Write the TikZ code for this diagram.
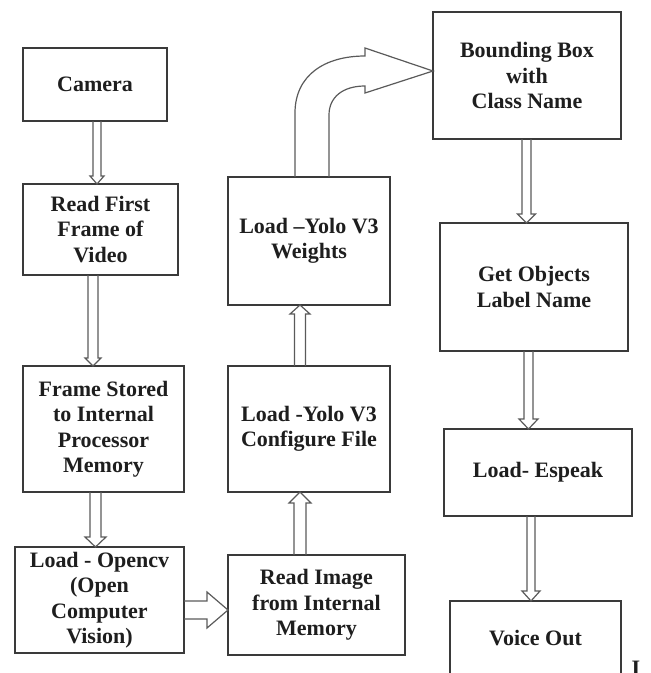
\documentclass[tikz,border=0pt]{standalone}
\usepackage{fontspec}
\setmainfont{Liberation Serif}
\usetikzlibrary{calc}

\definecolor{boxline}{HTML}{3A3A3A}
\definecolor{arrowline}{HTML}{5A5A5A}
\definecolor{inkc}{HTML}{1E1E1E}

\tikzset{
  stepbox/.style={draw=boxline, line width=1.6pt, fill=white, inner sep=0pt, outer sep=0pt,
    align=center, text=inkc, font=\bfseries\fontsize{22}{25.5}\selectfont},
  blockarrow/.style={draw=arrowline, line width=1.2pt, line join=miter}
}

% box from its left, top, right and bottom edges (y grows downwards)
\newcommand\stepnode[6]{%
  \node[stepbox, minimum width={(#4)-(#2)}, minimum height={(#5)-(#3)}]
    (#1) at ({((#2)+(#4))/2},{((#3)+(#5))/2}) {#6};}

% vertical hollow arrow: source anchor, target anchor, axis x, half shaft, half head,
% signed head length (positive when pointing down)
\newcommand\vblock[6]{%
  \draw[blockarrow] let \p1=(#1), \p2=(#2) in
    ({#3pt-#4pt},\y1) -- ({#3pt-#4pt},{\y2+#6pt}) -- ({#3pt-#5pt},{\y2+#6pt})
    -- ({#3pt},\y2) -- ({#3pt+#5pt},{\y2+#6pt}) -- ({#3pt+#4pt},{\y2+#6pt})
    -- ({#3pt+#4pt},\y1);}

% horizontal hollow arrow to the right: source, target, axis y, half shaft, half head, head length
\newcommand\hblock[6]{%
  \draw[blockarrow] let \p1=(#1), \p2=(#2) in
    (\x1,{-#3pt+#4pt}) -- ({\x2-#6pt},{-#3pt+#4pt}) -- ({\x2-#6pt},{-#3pt+#5pt})
    -- (\x2,{-#3pt}) -- ({\x2-#6pt},{-#3pt-#5pt}) -- ({\x2-#6pt},{-#3pt-#4pt})
    -- (\x1,{-#3pt-#4pt});}

\begin{document}
\begin{tikzpicture}[x=1pt,y=-1pt]
\useasboundingbox (0,0) rectangle (651,673);

% process steps
\stepnode{cam}{23}{48}{167}{121}{Camera}
\stepnode{first}{23}{184}{178}{275}{Read First\\Frame of\\Video}
\stepnode{stored}{23}{366}{184}{492}{Frame Stored\\to Internal\\Processor\\Memory}
\stepnode{opencv}{15}{547}{184}{653}{\fontsize{22}{28}\selectfont Load - Opencv\\(Open\\Computer\\Vision)}
\stepnode{readimg}{228}{555}{405}{655}{Read Image\\from Internal\\Memory}
\stepnode{config}{228}{366}{390}{492}{\fontsize{22}{28}\selectfont Load -Yolo V3\\Configure File}
\stepnode{weights}{228}{177}{390}{305}{Load –Yolo V3\\Weights}
\stepnode{bbox}{433}{12}{621}{139}{Bounding Box\\with\\Class Name}
\stepnode{getobj}{440}{223}{628}{351}{\fontsize{22}{27}\selectfont Get Objects\\Label Name}
\stepnode{espeak}{444}{429}{632}{516}{Load- Espeak}
\stepnode{voice}{450}{601}{621}{675}{Voice Out}

% straight block arrows
\vblock{cam.south}{first.north}{97}{4}{7}{8}
\vblock{first.south}{stored.north}{93}{5}{8}{8}
\vblock{stored.south}{opencv.north}{95.5}{5.5}{10.5}{10}
\hblock{opencv.east}{readimg.west}{610}{9}{18}{21}
\vblock{readimg.north}{config.south}{300}{6}{11}{-11}
\vblock{config.north}{weights.south}{300}{5.5}{10}{-9}
\vblock{bbox.south}{getobj.north}{526.5}{4.5}{9}{9}
\vblock{getobj.south}{espeak.north}{528.5}{4.5}{9.5}{10}
\vblock{espeak.south}{voice.north}{531}{4}{9}{10}

% curved block arrow from the weights step up to the bounding box step
\draw[blockarrow] let \p1=(weights.north), \p2=(bbox.west) in
  (295pt,\y1) -- (295pt,-113pt)
  .. controls (295pt,-75pt) and (325pt,-56pt) .. (365pt,-56pt)
  -- (365pt,-48pt) -- (\x2,-71pt) -- (365pt,-93pt) -- (365pt,-86pt)
  .. controls (343pt,-86pt) and (329pt,-97pt) .. (329pt,-115pt)
  -- (329pt,\y1);

% caption remnant at the lower edge
\node[anchor=base, text=inkc, font=\bfseries\fontsize{22}{25}\selectfont, inner sep=0pt] (cap) at (636,675) {I};
\end{tikzpicture}
\end{document}
